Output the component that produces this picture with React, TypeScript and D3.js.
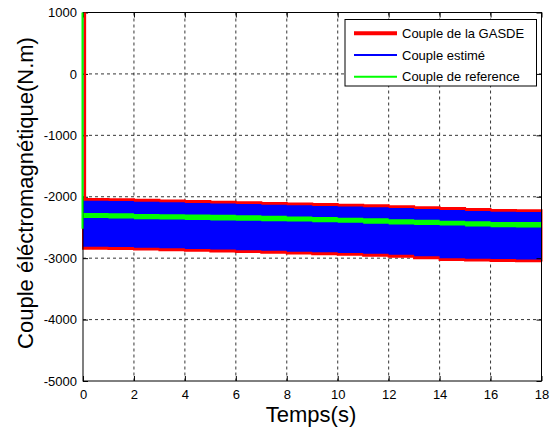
import React, { useEffect, useRef } from 'react';
import * as d3 from 'd3';

// time samples (s) of the envelopes
const temps = [0, 1, 2, 3, 4, 5, 6, 7, 8, 9, 10, 11, 12, 13, 14, 15, 16, 17, 18];
// Couple de la GASDE (red) envelope
const gasdeMax = [-2035, -2040, -2050, -2060, -2070, -2080, -2090, -2100, -2110, -2120, -2130, -2140, -2155, -2170, -2185, -2200, -2215, -2220, -2225];
const gasdeMin = [-2845, -2850, -2860, -2870, -2880, -2890, -2900, -2910, -2925, -2935, -2945, -2960, -2975, -3000, -3030, -3040, -3045, -3050, -3055];
// Couple estimé (blue) envelope
const estimeMax = [-2065, -2070, -2080, -2090, -2100, -2110, -2120, -2130, -2140, -2150, -2160, -2170, -2185, -2200, -2215, -2230, -2245, -2250, -2255];
const estimeMin = [-2815, -2820, -2830, -2840, -2850, -2860, -2870, -2880, -2895, -2905, -2915, -2930, -2945, -2970, -3000, -3010, -3015, -3020, -3025];
// Couple de reference (green) band
const refMax = [-2265, -2270, -2280, -2285, -2290, -2295, -2300, -2310, -2320, -2330, -2340, -2350, -2365, -2375, -2390, -2400, -2410, -2412, -2415];
const refMin = [-2345, -2355, -2365, -2370, -2380, -2385, -2390, -2400, -2405, -2415, -2425, -2440, -2450, -2460, -2470, -2485, -2495, -2500, -2505];

// start-up transient
const refSpikeT = [-0.02, -0.02];
const refSpikeV = [1200, -2520];
const gasdeSpikeT = [0.08, 0.08];
const gasdeSpikeV = [1200, -2040];

const xTicks = [0, 2, 4, 6, 8, 10, 12, 14, 16, 18];
const yTicks = [-5000, -4000, -3000, -2000, -1000, 0, 1000];

const legendLabels = ['Couple de la GASDE', 'Couple estimé', 'Couple de reference'];
const legendColors = ['#ff0000', '#0000ff', '#00ff00'];
const legendWidths = [4, 2, 2];

const FONT = 'Arial, "Liberation Sans", sans-serif';

const App = () => {
    const ref = useRef<SVGSVGElement>(null);

    useEffect(() => {
        const svg = d3.select(ref.current);
        svg.selectAll('*').remove();

        const left = 83, right = 541.5, top = 12.5, bottom = 381;
        const x = d3.scaleLinear().domain([0, 18]).range([left, right]);
        const y = d3.scaleLinear().domain([-5000, 1000]).range([bottom, top]);

        svg.append('rect').attr('width', 554).attr('height', 430).attr('fill', '#fff');

        svg.append('clipPath').attr('id', 'plot-clip')
            .append('rect')
            .attr('x', left - 2).attr('y', top)
            .attr('width', right - left + 4).attr('height', bottom - top);

        // grid
        const grid = svg.append('g').attr('stroke', '#000').attr('stroke-width', 0.8).attr('stroke-dasharray', '3,3');
        grid.selectAll('.gx')
            .data(xTicks.slice(1, -1))
            .enter().append('line')
            .attr('x1', d => x(d)).attr('x2', d => x(d))
            .attr('y1', top).attr('y2', bottom);
        grid.selectAll('.gy')
            .data(yTicks.slice(1, -1))
            .enter().append('line')
            .attr('x1', left).attr('x2', right)
            .attr('y1', d => y(d)).attr('y2', d => y(d));

        const plot = svg.append('g').attr('clip-path', 'url(#plot-clip)');

        const idx = temps.map((_, i) => i);
        const band = (hi: number[], lo: number[]) => d3.area<number>()
            .x(i => x(temps[i]))
            .y0(i => y(lo[i]))
            .y1(i => y(hi[i]))
            .curve(d3.curveStepAfter);

        plot.append('path')
            .datum(idx)
            .attr('d', band(gasdeMax, gasdeMin))
            .attr('fill', '#ff0000')
            .attr('stroke', '#ff0000')
            .attr('stroke-width', 2);

        plot.append('path')
            .datum(idx)
            .attr('d', band(estimeMax, estimeMin))
            .attr('fill', '#0000ff');

        plot.append('path')
            .datum(idx)
            .attr('d', band(refMax, refMin))
            .attr('fill', '#00ff00');

        // axes with inward ticks
        const styleAxis = (g: any) => {
            g.select('.domain').remove();
            g.selectAll('line').attr('stroke', '#000');
            g.selectAll('text').attr('font-family', FONT).attr('font-size', 13).attr('fill', '#000');
        };
        svg.append('g').attr('transform', `translate(0,${bottom})`)
            .call(d3.axisBottom(x).tickValues(xTicks).tickSize(-5).tickPadding(9).tickFormat(d => String(d)))
            .call(styleAxis);
        svg.append('g').attr('transform', `translate(${left},0)`)
            .call(d3.axisLeft(y).tickValues(yTicks).tickSize(-5).tickPadding(6).tickFormat(d => String(d)))
            .call(styleAxis);
        svg.append('g').attr('transform', `translate(0,${top})`)
            .call(d3.axisTop(x).tickValues(xTicks).tickSize(-5).tickFormat(() => ''))
            .call(styleAxis);
        svg.append('g').attr('transform', `translate(${right},0)`)
            .call(d3.axisRight(y).tickValues(yTicks).tickSize(-5).tickFormat(() => ''))
            .call(styleAxis);

        svg.append('rect')
            .attr('x', left).attr('y', top)
            .attr('width', right - left).attr('height', bottom - top)
            .attr('fill', 'none').attr('stroke', '#000').attr('stroke-width', 1);

        // start-up spikes drawn over the frame
        const spikes = svg.append('g').attr('clip-path', 'url(#plot-clip)');
        const spike = d3.line<number[]>().x(p => p[0]).y(p => p[1]);
        spikes.append('path')
            .attr('d', spike(gasdeSpikeT.map((t, i) => [x(t), y(gasdeSpikeV[i])])))
            .attr('stroke', '#ff0000').attr('stroke-width', 2.2).attr('fill', 'none');
        spikes.append('path')
            .attr('d', spike(refSpikeT.map((t, i) => [x(t), y(refSpikeV[i])])))
            .attr('stroke', '#00ff00').attr('stroke-width', 2).attr('fill', 'none');

        // axis titles
        svg.append('text')
            .attr('x', 311).attr('y', 422)
            .attr('text-anchor', 'middle')
            .attr('font-family', FONT).attr('font-size', 22)
            .text('Temps(s)');
        svg.append('text')
            .attr('transform', 'translate(33,193) rotate(-90)')
            .attr('text-anchor', 'middle')
            .attr('font-family', FONT).attr('font-size', 22)
            .text('Couple éléctromagnétique(N.m)');

        // legend
        const lg = svg.append('g');
        lg.append('rect')
            .attr('x', 345).attr('y', 19.5)
            .attr('width', 191.5).attr('height', 66.5)
            .attr('fill', '#fff').attr('stroke', '#000').attr('stroke-width', 1);
        const rows = lg.selectAll('.row')
            .data(legendLabels)
            .enter().append('g')
            .attr('transform', (_, i) => `translate(0,${33.3 + i * 21.7})`);
        rows.append('line')
            .attr('x1', 354).attr('x2', 397)
            .attr('stroke', (_, i) => legendColors[i])
            .attr('stroke-width', (_, i) => legendWidths[i]);
        rows.append('text')
            .attr('x', 402).attr('y', 4.5)
            .attr('font-family', FONT).attr('font-size', 13)
            .text(d => d);
    }, []);

    return <svg ref={ref} width="554" height="430" style={{ position: 'absolute', left: 0, top: 0 }}></svg>;
};

export default App;
